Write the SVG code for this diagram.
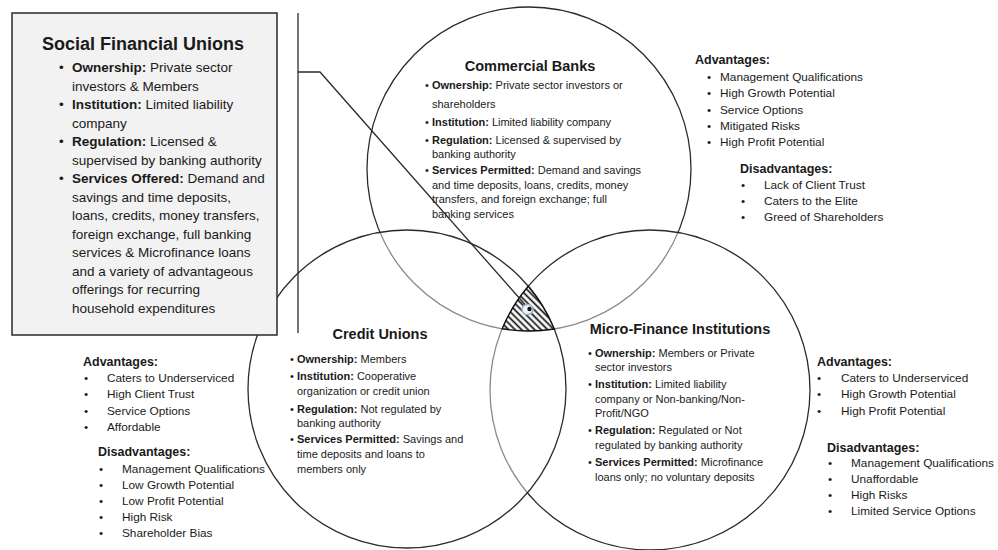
<svg xmlns="http://www.w3.org/2000/svg" width="998" height="550" viewBox="0 0 998 550">
<defs>
<style>
.t{font-family:"Liberation Sans",Arial,sans-serif;fill:#1a1a1a}
.bx{font-size:13.5px}
.c{font-size:11px}
.s{font-size:11.8px}
.h{font-size:12.5px;font-weight:bold}
.ttl{font-size:14.5px;font-weight:bold;text-anchor:middle}
.ttlb{font-size:18px;font-weight:bold;text-anchor:middle}
.b{font-weight:bold}
.ring{stroke:#2a2a2a;stroke-width:1.3}
.ln{fill:none;stroke:#2a2a2a;stroke-width:1.3}
</style>
<pattern id="hatch" patternUnits="userSpaceOnUse" width="4.6" height="4.6" patternTransform="rotate(45)">
<rect width="4.6" height="4.6" fill="#fff"/>
<line x1="0" y1="2.3" x2="4.6" y2="2.3" stroke="#111" stroke-width="1.7"/>
</pattern>
</defs>
<rect width="998" height="550" fill="#fff"/>

<g id="commercial-banks">
<circle class="ring" cx="529" cy="169" r="162" fill="#fff"/>
<text class="t ttl" x="530" y="71">Commercial Banks</text>
<g class="t c">
<text x="425" y="89">•</text><text x="432" y="89"><tspan class="b">Ownership:</tspan> Private sector investors or</text>
<text x="432" y="107.5">shareholders</text>
<text x="425" y="126">•</text><text x="432" y="126"><tspan class="b">Institution:</tspan> Limited liability company</text>
<text x="425" y="143.5">•</text><text x="432" y="143.5"><tspan class="b">Regulation:</tspan> Licensed &amp; supervised by</text>
<text x="432" y="158">banking authority</text>
<text x="425" y="174">•</text><text x="432" y="174"><tspan class="b">Services Permitted:</tspan> Demand and savings</text>
<text x="432" y="188.5">and time deposits, loans, credits, money</text>
<text x="432" y="203">transfers, and foreign exchange; full</text>
<text x="432" y="217.5">banking services</text>
</g>
</g>

<g id="micro-finance-institutions">
<circle class="ring" cx="650" cy="390" r="160" fill="#fff" fill-opacity="0.45"/>
<text class="t ttl" x="680" y="334">Micro-Finance Institutions</text>
<g class="t c">
<text x="588" y="357">•</text><text x="595" y="357"><tspan class="b">Ownership:</tspan> Members or Private</text>
<text x="595" y="371">sector investors</text>
<text x="588" y="388">•</text><text x="595" y="388"><tspan class="b">Institution:</tspan> Limited liability</text>
<text x="595" y="403">company or Non-banking/Non-</text>
<text x="595" y="417">Profit/NGO</text>
<text x="588" y="434">•</text><text x="595" y="434"><tspan class="b">Regulation:</tspan> Regulated or Not</text>
<text x="595" y="449">regulated by banking authority</text>
<text x="588" y="466">•</text><text x="595" y="466"><tspan class="b">Services Permitted:</tspan> Microfinance</text>
<text x="595" y="481">loans only; no voluntary deposits</text>
</g>
</g>

<g id="credit-unions">
<circle class="ring" cx="407" cy="389" r="159" fill="#fff" fill-opacity="0.45"/>
<text class="t ttl" x="380" y="339">Credit Unions</text>
<g class="t c">
<text x="290" y="363">•</text><text x="297" y="363"><tspan class="b">Ownership:</tspan> Members</text>
<text x="290" y="380">•</text><text x="297" y="380"><tspan class="b">Institution:</tspan> Cooperative</text>
<text x="297" y="395">organization or credit union</text>
<text x="290" y="413">•</text><text x="297" y="413"><tspan class="b">Regulation:</tspan> Not regulated by</text>
<text x="297" y="427">banking authority</text>
<text x="290" y="443">•</text><text x="297" y="443"><tspan class="b">Services Permitted:</tspan> Savings and</text>
<text x="297" y="458">time deposits and loans to</text>
<text x="297" y="473">members only</text>
</g>
</g>

<g id="social-financial-unions">
<rect x="12" y="13" width="265" height="322" fill="#f2f2f2" stroke="#2a2a2a" stroke-width="1.5"/>
<text class="t ttlb" x="143" y="50">Social Financial Unions</text>
<g class="t bx">
<text x="59" y="72">•</text><text x="72" y="72"><tspan class="b">Ownership:</tspan> Private sector</text>
<text x="72" y="90.5">investors &amp; Members</text>
<text x="59" y="109">•</text><text x="72" y="109"><tspan class="b">Institution:</tspan> Limited liability</text>
<text x="72" y="127.5">company</text>
<text x="59" y="146">•</text><text x="72" y="146"><tspan class="b">Regulation:</tspan> Licensed &amp;</text>
<text x="72" y="164.5">supervised by banking authority</text>
<text x="59" y="183">•</text><text x="72" y="183"><tspan class="b">Services Offered:</tspan> Demand and</text>
<text x="72" y="201.5">savings and time deposits,</text>
<text x="72" y="220">loans, credits, money transfers,</text>
<text x="72" y="238.5">foreign exchange, full banking</text>
<text x="72" y="257">services &amp; Microfinance loans</text>
<text x="72" y="275.5">and a variety of advantageous</text>
<text x="72" y="294">offerings for recurring</text>
<text x="72" y="312.5">household expenditures</text>
</g>
</g>

<g id="commercial-banks-pros-cons" class="t">
<text class="h" x="695" y="64">Advantages:</text>
<g class="s">
<text x="707" y="81">•</text><text x="720" y="81">Management Qualifications</text>
<text x="707" y="97.3">•</text><text x="720" y="97.3">High Growth Potential</text>
<text x="707" y="113.6">•</text><text x="720" y="113.6">Service Options</text>
<text x="707" y="129.9">•</text><text x="720" y="129.9">Mitigated Risks</text>
<text x="707" y="146.2">•</text><text x="720" y="146.2">High Profit Potential</text>
</g>
<text class="h" x="740" y="173">Disadvantages:</text>
<g class="s">
<text x="741" y="189">•</text><text x="764" y="189">Lack of Client Trust</text>
<text x="741" y="205">•</text><text x="764" y="205">Caters to the Elite</text>
<text x="741" y="221">•</text><text x="764" y="221">Greed of Shareholders</text>
</g>
</g>

<g id="credit-unions-pros-cons" class="t">
<text class="h" x="83" y="366">Advantages:</text>
<g class="s">
<text x="84" y="382">•</text><text x="107" y="382">Caters to Underserviced</text>
<text x="84" y="398.3">•</text><text x="107" y="398.3">High Client Trust</text>
<text x="84" y="414.6">•</text><text x="107" y="414.6">Service Options</text>
<text x="84" y="430.9">•</text><text x="107" y="430.9">Affordable</text>
</g>
<text class="h" x="98" y="456">Disadvantages:</text>
<g class="s">
<text x="99" y="473">•</text><text x="122" y="473">Management Qualifications</text>
<text x="99" y="489">•</text><text x="122" y="489">Low Growth Potential</text>
<text x="99" y="505">•</text><text x="122" y="505">Low Profit Potential</text>
<text x="99" y="521">•</text><text x="122" y="521">High Risk</text>
<text x="99" y="537">•</text><text x="122" y="537">Shareholder Bias</text>
</g>
</g>

<g id="mfi-pros-cons" class="t">
<text class="h" x="817" y="366">Advantages:</text>
<g class="s">
<text x="817" y="382">•</text><text x="841" y="382">Caters to Underserviced</text>
<text x="817" y="398.3">•</text><text x="841" y="398.3">High Growth Potential</text>
<text x="817" y="414.6">•</text><text x="841" y="414.6">High Profit Potential</text>
</g>
<text class="h" x="827" y="452">Disadvantages:</text>
<g class="s">
<text x="828" y="467">•</text><text x="851" y="467">Management Qualifications</text>
<text x="828" y="483">•</text><text x="851" y="483">Unaffordable</text>
<text x="828" y="499">•</text><text x="851" y="499">High Risks</text>
<text x="828" y="515">•</text><text x="851" y="515">Limited Service Options</text>
</g>
</g>

<g id="intersection">
<path d="M528.3,286.2 A160,160 0 0 0 502.2,328.8 A162,162 0 0 0 554.25,329 A159,159 0 0 0 528.3,286.2 Z" fill="url(#hatch)" stroke="#111" stroke-width="1.4"/>
</g>

<g id="connectors">
<line class="ln" x1="298" y1="13" x2="298" y2="333"/>
<polyline class="ln" points="298,72 320,72 528,308"/>
</g>

<g id="intersection-marker">
<ellipse cx="527.5" cy="309.5" rx="5.5" ry="5" fill="#eef4f8" stroke="#9db6c9" stroke-width="1.6"/>
<circle cx="529.5" cy="309" r="2.2" fill="#111"/>
</g>
</svg>
